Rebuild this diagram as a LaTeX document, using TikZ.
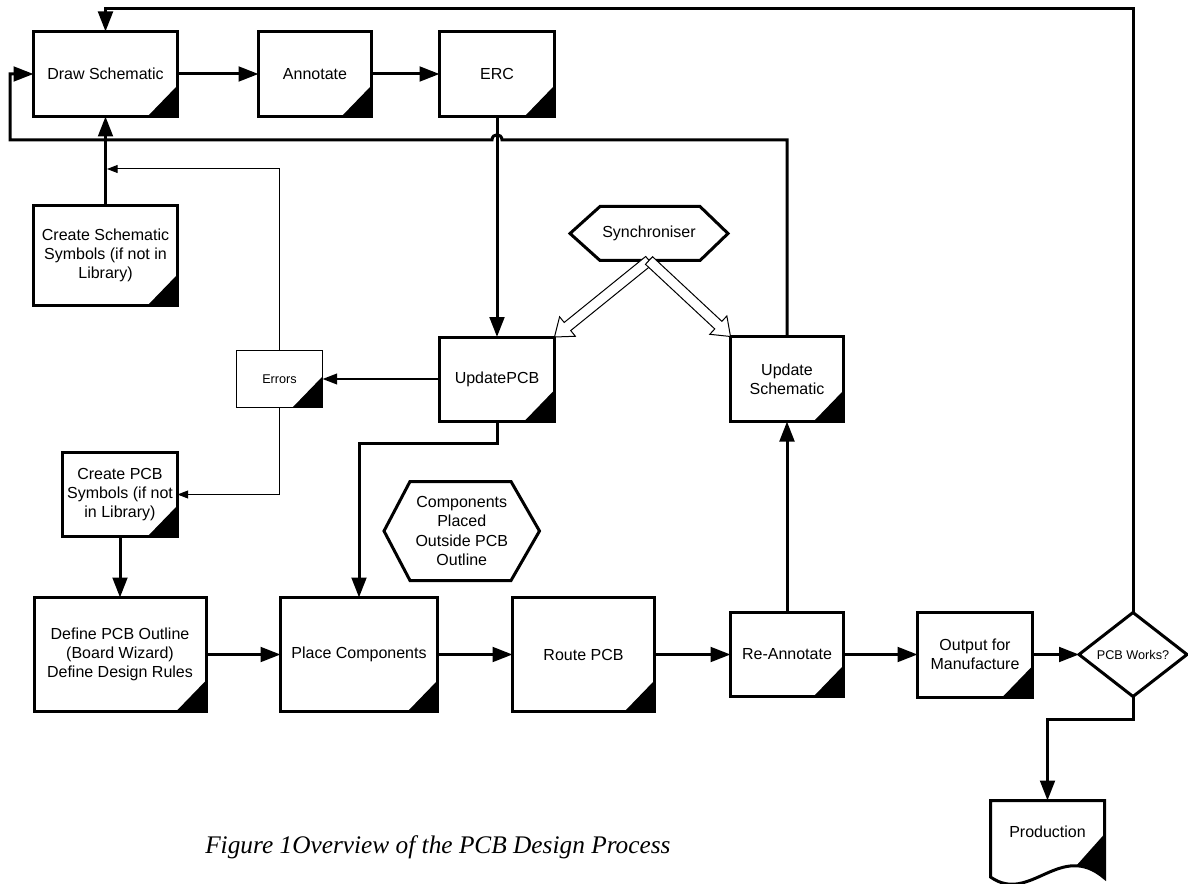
\documentclass[tikz,border=0pt]{standalone}
\usepackage{fontspec}
\setmainfont{Liberation Sans}
\newfontfamily\capfont{Liberation Serif}
\usetikzlibrary{arrows.meta,calc,shapes.geometric}
\tikzset{
  sz/.style 2 args={minimum width={#1*0.75pt}, minimum height={#2*0.75pt}},
  proc/.style={draw, line width=2.25pt, outer sep=0pt, inner sep=1pt, align=center, font=\fontsize{12}{14.3}\selectfont},
  smallproc/.style={draw, line width=1pt, outer sep=0pt, inner sep=1pt, align=center, font=\fontsize{9.5}{11}\selectfont},
  txtnode/.style={outer sep=0pt, inner sep=0pt, align=center, font=\fontsize{12}{14.3}\selectfont},
  shapeline/.style={line width=2.25pt, line join=miter},
  conn/.style={line width=2.25pt, -{Triangle[length=15pt,width=11pt]}},
  medconn/.style={line width=1.5pt, -{Triangle[length=11pt,width=8pt]}},
  thinconn/.style={line width=0.75pt, -{Triangle[length=8pt,width=6pt]}},
  hollow/.style={line width=0.75pt, fill=white, line join=miter},
}
\newcommand\dogear[1]{\fill (#1.south east) -- ++(-30,0) -- ++(30,-31) -- cycle;}
\newcommand\hollowarrow[2]{%
  \coordinate (ha-b) at ($(#2)!12.5pt!(#1)$);
  \filldraw[hollow] ($(#1)!3.9pt!90:(#2)$) -- ($(ha-b)!3.9pt!90:(#2)$) -- ($(ha-b)!9.4pt!90:(#2)$) -- (#2) -- ($(ha-b)!9.4pt!-90:(#2)$) -- ($(ha-b)!3.9pt!-90:(#2)$) -- ($(#1)!3.9pt!-90:(#2)$) -- cycle;}
\begin{document}
\begin{tikzpicture}[x=0.75pt,y=-0.75pt]
\useasboundingbox (0,0) rectangle (1188,884);
% nodes
\node[proc, sz={144}{85}] (ds) at (105.5,74) {Draw Schematic};
\node[proc, sz={113}{85}] (an) at (315,74) {Annotate};
\node[proc, sz={115}{85}] (erc) at (497,74) {ERC};
\node[proc, sz={144}{100}] (css) at (105.5,255.5) {Create Schematic\\Symbols (if not in\\Library)};
\node[smallproc, sz={86}{57}] (err) at (279.5,379) {Errors};
\node[proc, sz={115}{84}] (upcb) at (497,379) {UpdatePCB};
\node[proc, sz={113}{85}] (usch) at (787,379) {Update\\Schematic};
\node[txtnode, sz={158}{54}] (sync) at (649,233.5) {Synchroniser};
\node[proc, sz={115}{84}] (cpcb) at (120,494.5) {Create PCB\\Symbols (if not\\in Library)};
\node[proc, sz={172}{114}] (dpcb) at (120,654.5) {Define PCB Outline\\(Board Wizard)\\Define Design Rules};
\node[proc, sz={157}{114}] (place) at (359,654.5) {Place Components};
\node[proc, sz={142}{114}] (route) at (583.5,654.5) {Route PCB};
\node[txtnode, sz={155.5}{99}] (comp) at (461.75,531) {Components\\Placed\\Outside PCB\\Outline};
\node[proc, sz={113}{84}] (rean) at (787,654.5) {Re-Annotate};
\node[proc, sz={115}{85}] (out) at (975,654.5) {Output for\\Manufacture};
\node[diamond, draw, line width=2.25pt, outer sep=0pt, inner sep=0pt, sz={108}{84}, font=\fontsize{9.5}{11}\selectfont] (works) at (1133,654.5) {PCB Works?};
\node[txtnode, sz={114}{63}] (prod) at (1047.5,832) {Production};
\node[anchor=base west, inner sep=0pt, font=\capfont\itshape\fontsize{19}{22}\selectfont] (cap) at (205,853) {Figure 1Overview of the PCB Design Process};
% corner marks
\foreach \n in {ds,an,erc,css,err,upcb,usch,cpcb,dpcb,place,route,rean,out}{\dogear{\n}}
% hexagons
\draw[shapeline] (sync.west) -- ($(sync.north west)+(30,0)$) -- ($(sync.north east)+(-28,0)$) -- (sync.east) -- ($(sync.south east)+(-28,0)$) -- ($(sync.south west)+(30,0)$) -- cycle;
\draw[shapeline] (comp.west) -- ($(comp.north west)+(26,0)$) -- ($(comp.north east)+(-28.5,0)$) -- (comp.east) -- ($(comp.south east)+(-28.5,0)$) -- ($(comp.south west)+(26,0)$) -- cycle;
% production document shape
\draw[shapeline] (990.5,877) -- (prod.north west) -- (prod.north east) -- (1104.5,878) .. controls (1060,840) and (1030,905) .. (990.5,877) -- cycle;
\fill (1076,866) -- (1104.5,834) -- (1104.5,878) .. controls (1097,872) and (1085,866.5) .. (1076,866) -- cycle;
% connectors
\draw[conn] (ds.east) -- (an.west);
\draw[conn] (an.east) -- (erc.west);
\draw[conn] (css.north) -- (ds.south);
\draw[conn] (usch.north) |- (502,140) .. controls (502,133) and (492,133) .. (492,140) -| ($(ds.west)+(-23.5,0)$) -- (ds.west);
\draw[conn] (erc.south) -- (upcb.north);
\draw[conn] (works.north) |- ($(ds.north)+(0,-22.5)$) -- (ds.north);
\draw[medconn] (upcb.west) -- (err.east);
\coordinate (joinA) at (107,169);
\draw[thinconn] (err.north) |- (joinA);
\draw[thinconn] (err.south) |- (cpcb.east);
\draw[conn] (cpcb.south) -- (dpcb.north);
\draw[conn] (upcb.south) -- ++(0,22) -| (place.north);
\draw[conn] (dpcb.east) -- (place.west);
\draw[conn] (place.east) -- (route.west);
\draw[conn] (route.east) -- (rean.west);
\draw[conn] (rean.east) -- (out.west);
\draw[conn] (out.east) -- (works.west);
\draw[conn] (rean.north) -- (usch.south);
\draw[conn] (works.south) -- ++(0,22.5) -| (prod.north);
\hollowarrow{sync.south}{upcb.north east}
\hollowarrow{sync.south}{usch.north west}
\end{tikzpicture}
\end{document}
